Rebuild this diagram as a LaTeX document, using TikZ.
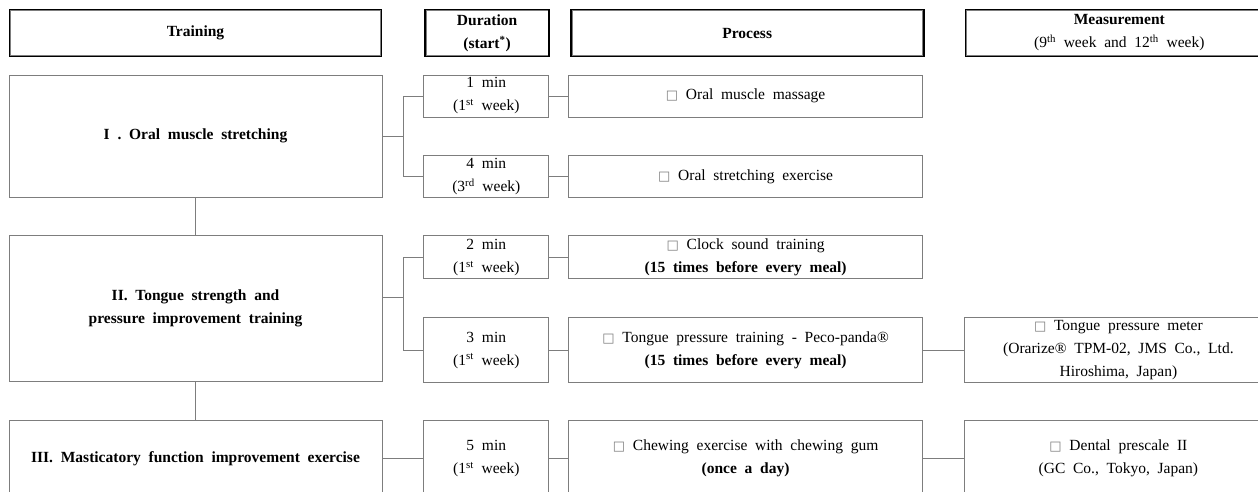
\documentclass[tikz,border=0pt]{standalone}
\usepackage{fontspec}
\setmainfont{Liberation Serif}
\newfontfamily\boxglyph{DejaVu Sans}
\usepackage{tikz}
\usetikzlibrary{positioning,calc}
\definecolor{framegray}{RGB}{125,125,125}
\newcommand{\boxtext}{\fontsize{15.5}{23}\selectfont\spaceskip=.5em plus .1em\relax}
\newcommand{\chk}{{\boxglyph\fontsize{13}{13}\selectfont\textcolor{framegray}{□}}}
\newcommand{\wk}[2]{(#1\textsuperscript{#2} week)}

\begin{document}
\begin{tikzpicture}[x=1pt,y=-1pt,
box/.style={draw=framegray,line width=.8pt,align=center,inner sep=1pt,font=\boxtext},
headbox/.style={box,draw=black,line width=1.6pt,minimum height=47pt,
  append after command={\pgfextra{\draw[framegray,line width=.6pt]
    ([shift={(1.9pt,-1.9pt)}]\tikzlastnode.north west)rectangle([shift={(-1.9pt,1.9pt)}]\tikzlastnode.south east);}}},
trainbox/.style={box,minimum width=373pt,font=\boxtext\bfseries},
durbox/.style={box,minimum width=125pt},
procbox/.style={box,minimum width=354pt},
measbox/.style={box,minimum width=308pt},
link/.style={draw=framegray,line width=.8pt}]
\path[use as bounding box,fill=white](0,0)rectangle(1258,491);
\clip(0,0)rectangle(1258,491);
% column heads
\node[headbox,minimum width=372pt,font=\boxtext\bfseries](htrain)at(195.5,33){Training};
\node[headbox,minimum width=124pt,font=\boxtext\bfseries,right=42pt of htrain](hdur){Duration\\(start\textsuperscript{*})};
\node[headbox,minimum width=353pt,font=\boxtext\bfseries,right=20pt of hdur](hproc){Process};
\node[headbox,minimum width=308pt,right=40pt of hproc](hmeas){\textbf{Measurement}\\(9\textsuperscript{th} week and 12\textsuperscript{th} week)};
% training blocks
\node[trainbox,minimum height=122pt](oral)at(195.5,136){I . Oral muscle stretching};
\node[trainbox,minimum height=146pt,below=38pt of oral](tongue){II. Tongue strength and\\pressure improvement training};
\node[trainbox,minimum height=76pt,below=38pt of tongue](chew){III. Masticatory function improvement exercise};
% durations
\node[durbox,minimum height=42pt,right=41pt of oral.north east,anchor=north west](dmassage){1 min\\\wk{1}{st}};
\node[durbox,minimum height=42pt,below=38pt of dmassage](dstretch){4 min\\\wk{3}{rd}};
\node[durbox,minimum height=43pt,right=41pt of tongue.north east,anchor=north west](dclock){2 min\\\wk{1}{st}};
\node[durbox,minimum height=65pt,below=38pt of dclock](dpeco){3 min\\\wk{1}{st}};
\node[durbox,minimum height=76pt,right=41pt of chew](dgum){5 min\\\wk{1}{st}};
% processes
\node[procbox,minimum height=42pt,right=19pt of dmassage](pmassage){\chk\ Oral muscle massage};
\node[procbox,minimum height=42pt,right=19pt of dstretch](pstretch){\chk\ Oral stretching exercise};
\node[procbox,minimum height=43pt,right=19pt of dclock](pclock){\chk\ Clock sound training\\\textbf{(15 times before every meal)}};
\node[procbox,minimum height=65pt,right=19pt of dpeco](ppeco){\chk\ Tongue pressure training - Peco-panda®\\\textbf{(15 times before every meal)}};
\node[procbox,minimum height=76pt,right=19pt of dgum](pgum){\chk\ Chewing exercise with chewing gum\\\textbf{(once a day)}};
% measurements
\node[measbox,minimum height=65pt,right=41pt of ppeco](mpeco){\chk\ Tongue pressure meter\\(Orarize® TPM-02, JMS Co., Ltd.\\Hiroshima, Japan)};
\node[measbox,minimum height=76pt,right=41pt of pgum](mgum){\chk\ Dental prescale II\\(GC Co., Tokyo, Japan)};
% connectors
\draw[link](oral)--(tongue);
\draw[link](tongue)--(chew);
\coordinate[right=21pt of oral.east](fork1);
\draw[link](oral.east)--(fork1)|-(dmassage.west);
\draw[link](fork1)|-(dstretch.west);
\coordinate(fork2)at($(tongue.east)+(21pt,11pt)$);
\draw[link](fork2-|tongue.east)--(fork2)|-(dclock.west);
\draw[link](fork2)|-(dpeco.west);
\draw[link](chew)--(dgum);
\foreach \a/\b in {dmassage/pmassage,dstretch/pstretch,dclock/pclock,dpeco/ppeco,dgum/pgum,ppeco/mpeco,pgum/mgum}
  \draw[link](\a)--(\b);
\end{tikzpicture}
\end{document}
